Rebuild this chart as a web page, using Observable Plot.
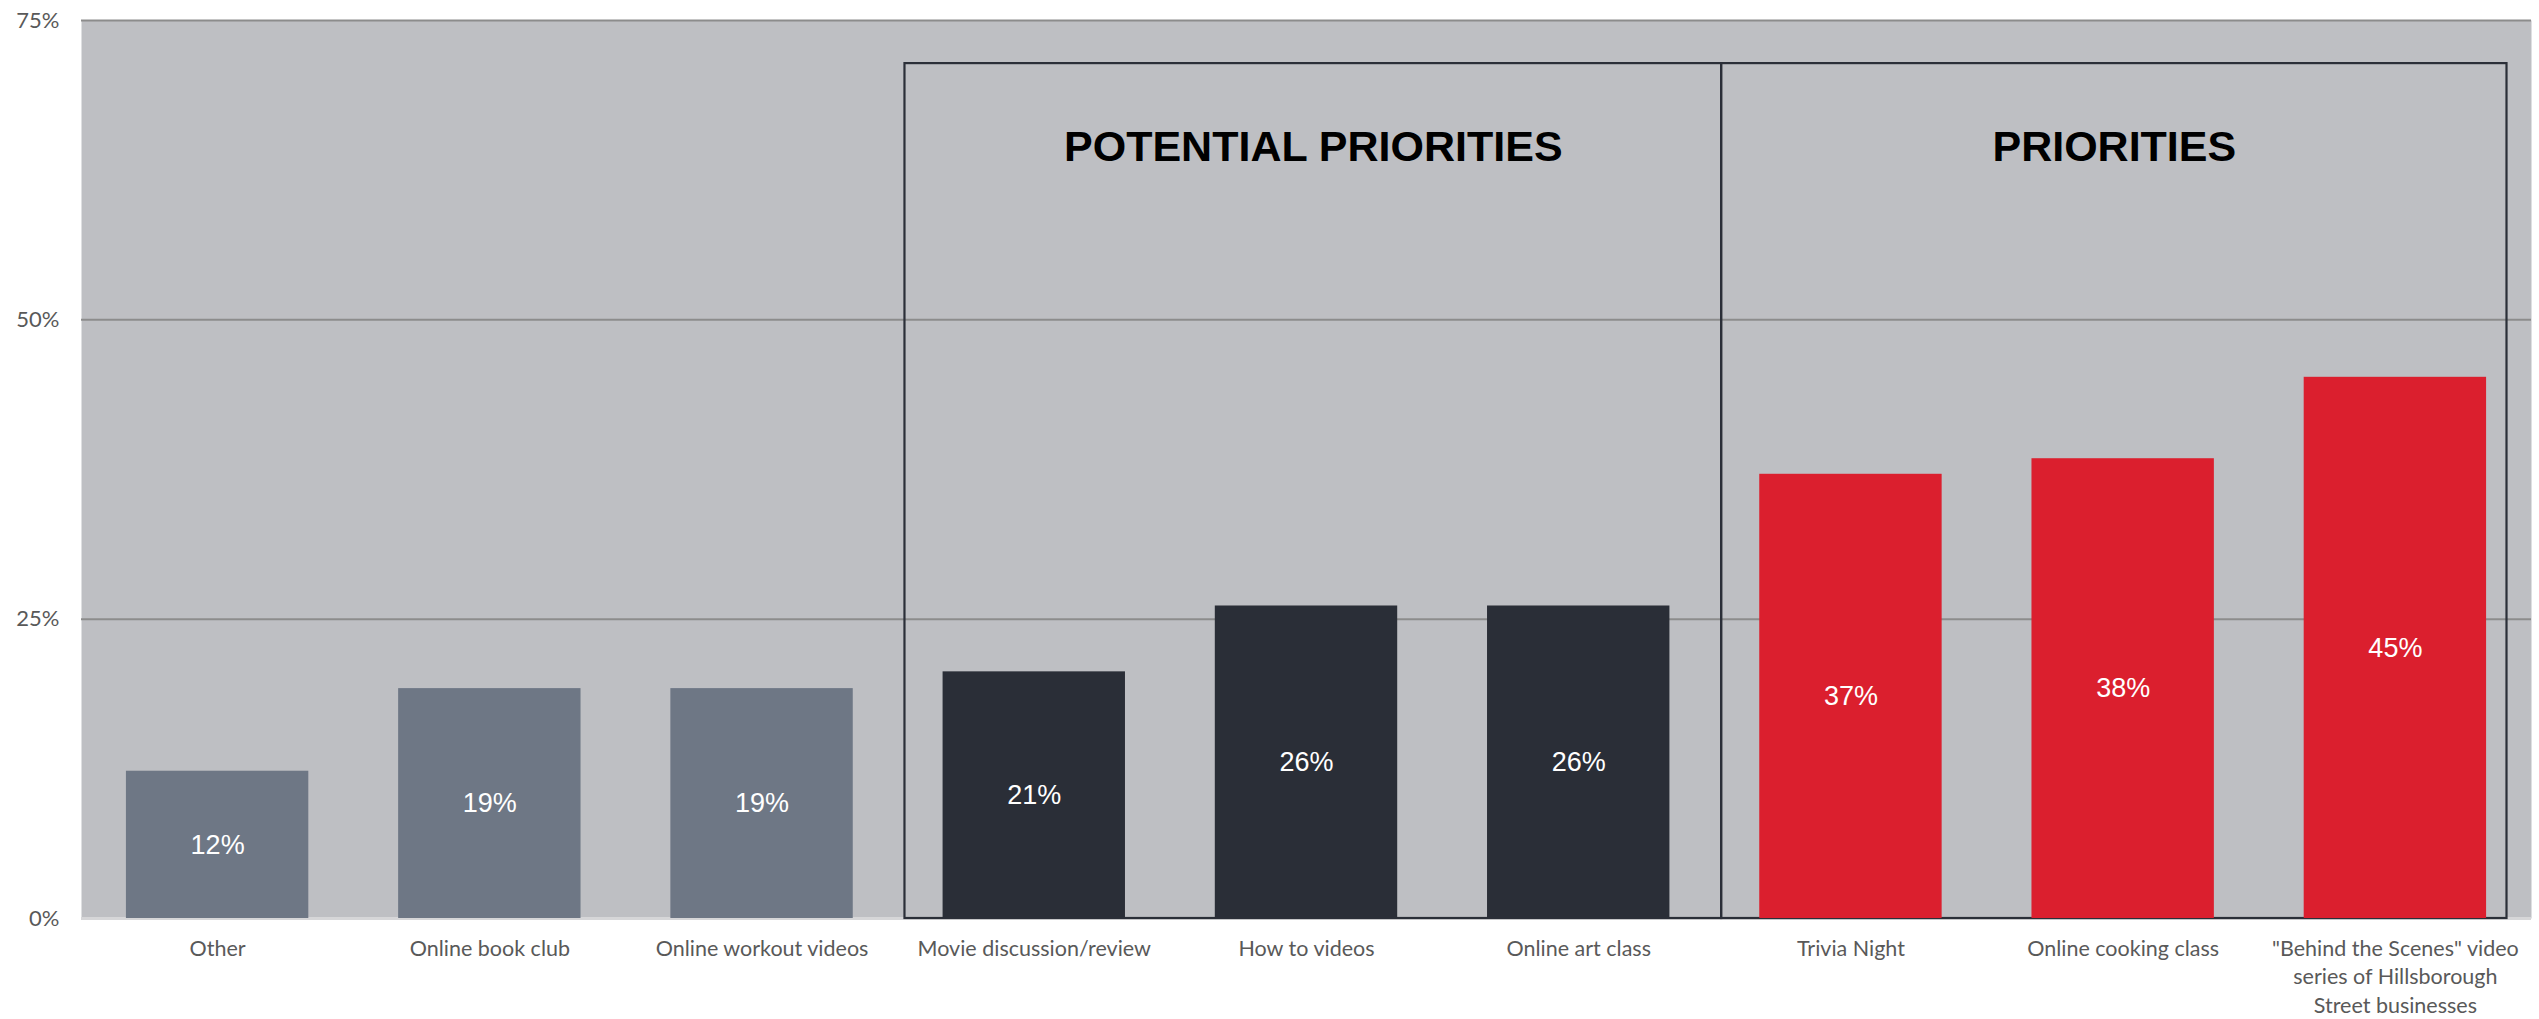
<!DOCTYPE html>
<html>
<head>
<meta charset="utf-8">
<script src="https://cdn.jsdelivr.net/npm/d3@7"></script>
<script src="https://cdn.jsdelivr.net/npm/@observablehq/plot@0.6"></script>
<style>
  html, body { margin: 0; padding: 0; background: #ffffff; }
  #chart svg { display: block; background: #ffffff; }
</style>
</head>
<body>
<div id="chart"></div>
<script>
const categories = [
  "Other",
  "Online book club",
  "Online workout videos",
  "Movie discussion/review",
  "How to videos",
  "Online art class",
  "Trivia Night",
  "Online cooking class",
  "\"Behind the Scenes\" video\nseries of Hillsborough\nStreet businesses"
];
const values = [12.3, 19.2, 19.2, 20.6, 26.1, 26.1, 37.1, 38.4, 45.2];
const valueLabels = ["12%", "19%", "19%", "21%", "26%", "26%", "37%", "38%", "45%"];
const groups = ["Other", "Other", "Other", "Potential", "Potential", "Potential", "Priority", "Priority", "Priority"];
const groupNames = ["Other", "Potential", "Priority"];
const groupColors = ["#6e7785", "#2a2e37", "#db1f2e"];
const yTicks = [0, 25, 50, 75];
const yTickLabels = ["0%", "25%", "50%", "75%"];
const boxLabels = ["POTENTIAL PRIORITIES", "PRIORITIES"];
const boxFirst = [3, 6];
const boxLast = [5, 8];
const boxTop = 71.4;
const boxTitleY = 64.4;

const rows = categories.map((c, i) => ({i, category: c, value: values[i], label: valueLabels[i], group: groups[i]}));
const boxes = boxLabels.map((l, k) => ({label: l, first: boxFirst[k], last: boxLast[k], top: boxTop, titleY: boxTitleY}));
const half = 0.335;
const boxX1 = d => d.first - 0.475;
const boxX2 = d => d.last + (d.last === categories.length - 1 ? 0.41 : 0.525);

const chart = Plot.plot({
  width: 2539,
  height: 1019,
  marginLeft: 81,
  marginRight: 8,
  marginTop: 20,
  marginBottom: 101,
  x: {type: "linear", domain: [-0.5, categories.length - 0.5]},
  y: {domain: [0, 75]},
  color: {domain: groupNames, range: groupColors},
  marks: [
    Plot.frame({fill: "#bebfc3", stroke: null}),
    Plot.ruleY(yTicks.filter(t => t > 0), {stroke: "#8c8c8c", strokeWidth: 2}),
    Plot.ruleY([0], {stroke: "#d6d6d8", strokeWidth: 3}),
    Plot.rect(boxes, {
      x1: boxX1,
      x2: boxX2,
      y1: 0,
      y2: "top",
      fill: "none",
      stroke: "#2b2f38",
      strokeWidth: 2.2
    }),
    Plot.rectY(rows, {
      x1: d => d.i - half,
      x2: d => d.i + half,
      y: "value",
      fill: "group"
    }),
    Plot.text(rows, {
      x: "i",
      y: d => d.value / 2,
      text: "label",
      fill: "#ffffff",
      fontSize: 27,
      fontFamily: "Liberation Sans, Arial, sans-serif"
    }),
    Plot.text(boxes, {
      x: d => (boxX1(d) + boxX2(d)) / 2,
      y: "titleY",
      text: "label",
      fill: "#000000",
      fontSize: 43,
      fontWeight: "bold",
      fontFamily: "Liberation Sans Narrow, Arial Narrow, sans-serif"
    }),
    Plot.axisY({
      ticks: yTicks,
      tickFormat: d => yTickLabels[yTicks.indexOf(d)],
      tickSize: 0,
      tickPadding: 22,
      fontSize: 22,
      fill: "#595959",
      fontFamily: "Lato, sans-serif",
      label: null
    }),
    Plot.axisX({
      ticks: categories.map((c, i) => i),
      tickFormat: i => categories[i],
      tickSize: 0,
      tickPadding: 17,
      fontSize: 21.5,
      lineHeight: 1.33,
      fill: "#595959",
      fontFamily: "Lato, sans-serif",
      label: null
    })
  ]
});
document.getElementById("chart").appendChild(chart);
</script>
</body>
</html>
